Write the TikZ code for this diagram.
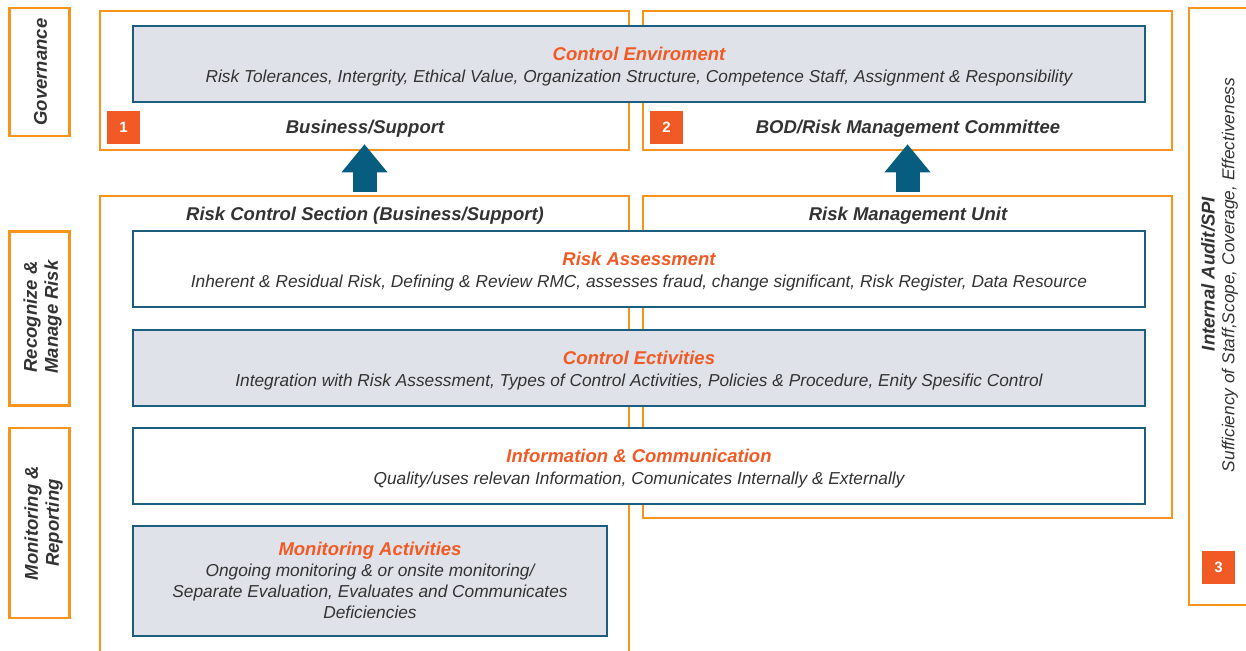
\documentclass[tikz,border=0pt]{standalone}
\usepackage{fontspec}
\setmainfont{Liberation Sans}
\usetikzlibrary{arrows.meta}
\definecolor{frameor}{HTML}{F7941D}
\definecolor{tagred}{HTML}{F15A24}
\definecolor{boxteal}{HTML}{1D5E7E}
\definecolor{arrteal}{HTML}{065D7F}
\definecolor{boxgray}{HTML}{DFE2E9}
\definecolor{txtgray}{HTML}{333333}
\newcommand{\ttl}[1]{{\fontsize{18.5}{22}\selectfont\bfseries\color{tagred}#1}}
\newcommand{\toprule}{\rule{0pt}{19.5pt}}

\begin{document}
\begin{tikzpicture}[x=1pt,y=-1pt,font=\itshape]
    \tikzstyle{orframe}=[draw=frameor,line width=2.5pt,inner sep=0pt]
    \tikzstyle{sidebox}=[orframe,rotate=90,minimum height=60pt]
    \tikzstyle{sidetext}=[rotate=90,align=center,text=txtgray,font=\fontsize{18.5}{21}\selectfont\bfseries\itshape]
    \tikzstyle{itembox}=[draw=boxteal,line width=2pt,fill=white,minimum width=1012pt,minimum height=76pt,align=center,inner sep=0pt,text=txtgray,font=\fontsize{17.3}{22}\selectfont\itshape]
    \tikzstyle{itemfill}=[itembox,fill=boxgray]
    \tikzstyle{numtag}=[fill=tagred,text=white,minimum size=33pt,inner sep=0pt,font=\fontsize{15}{15}\selectfont\bfseries\upshape]
    \tikzstyle{colhead}=[text=txtgray,font=\fontsize{18.5}{22}\selectfont\bfseries\itshape]
    \tikzstyle{uparrow}=[arrteal,line width=24pt,-{Triangle[width=44pt,length=28pt]}]

    \useasboundingbox (0,0) rectangle (1246,650);

    % side labels
    \node(govbox) [sidebox,minimum width=128pt] at (39.5,72) {};
    \node(recbox) [sidebox,minimum width=174pt] at (39.5,318.5) {};
    \node(monbox) [sidebox,minimum width=190pt] at (39.5,523) {};
    \node(gov) [sidetext] at (40.5,72) {Governance};
    \node(rec) [sidetext] at (42.5,317) {Recognize \&\\Manage Risk};
    \node(mon) [sidetext] at (43.5,523) {Monitoring \&\\Reporting};

    % orange frames
    \node(bsframe)  [orframe,minimum width=529pt,minimum height=139pt] at (364.5,80.5) {};
    \node(bodframe) [orframe,minimum width=529pt,minimum height=139pt] at (907.5,80.5) {};
    \node(rcsframe) [orframe,minimum width=529pt,minimum height=464pt] at (364.5,428) {};
    \node(rmuframe) [orframe,minimum width=529pt,minimum height=322pt] at (907.5,357) {};
    \node(audframe) [orframe,minimum width=71pt,minimum height=597pt] at (1224.5,306.5) {};

    % COSO components
    \node(ctrlenv) [itemfill] at (639,64) {\toprule\ttl{Control Enviroment}\\ Risk Tolerances, Intergrity, Ethical Value, Organization Structure, Competence Staff, Assignment \& Responsibility};
    \node(riskass) [itembox] at (639,269) {\toprule\ttl{Risk Assessment}\\ Inherent \& Residual Risk, Defining \& Review RMC, assesses fraud, change significant, Risk Register, Data Resource};
    \node(ctrlact) [itemfill] at (639,368) {\toprule\ttl{Control Ectivities}\\ Integration with Risk Assessment, Types of Control Activities, Policies \& Procedure, Enity Spesific Control};
    \node(infocom) [itembox] at (639,466) {\toprule\ttl{Information \& Communication}\\ Quality/uses relevan Information, Comunicates Internally \& Externally};
    \node(monact) [itemfill,minimum width=474pt,minimum height=110pt,font=\fontsize{17.3}{21}\selectfont\itshape] at (370,580.5) {\ttl{Monitoring Activities}\\ Ongoing monitoring \& or onsite monitoring/\\ Separate Evaluation, Evaluates and Communicates\\ Deficiencies};

    % column headings
    \node(bs)  [colhead] at (365,129) {Business/Support};
    \node(bod) [colhead] at (908,129) {BOD/Risk Management Committee};
    \node(rcs) [colhead] at (365,216) {Risk Control Section (Business/Support)};
    \node(rmu) [colhead] at (908,216) {Risk Management Unit};
    \node(aud) [colhead,rotate=90] at (1208,274) {Internal Audit/SPI};
    \node(suff) [rotate=90,text=txtgray,font=\fontsize{17.3}{17}\selectfont\itshape] at (1230,275) {Sufficiency of Staff,Scope, Coverage, Effectiveness};

    \node(t1) [numtag] at (123.5,127.5) {1};
    \node(t2) [numtag] at (666.5,127.5) {2};
    \node(t3) [numtag] at (1218.5,567.5) {3};

    \draw [uparrow] ([yshift=3pt]rcsframe.north) -- ([yshift=7pt]bsframe.south);
    \draw [uparrow] ([yshift=3pt]rmuframe.north) -- ([yshift=7pt]bodframe.south);

\end{tikzpicture}
\end{document}
